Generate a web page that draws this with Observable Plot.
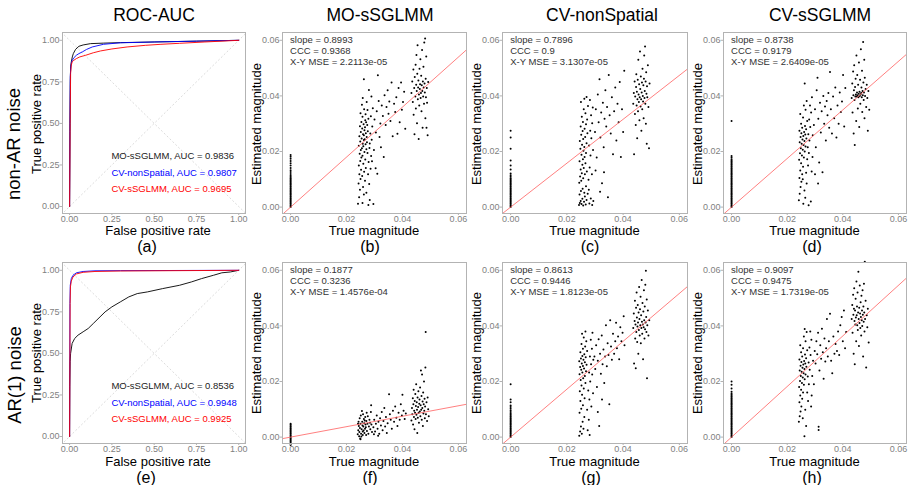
<!DOCTYPE html>
<html><head><meta charset="utf-8">
<script src="https://cdn.jsdelivr.net/npm/d3@7"></script>
<script src="https://cdn.jsdelivr.net/npm/@observablehq/plot@0.6"></script>
<style>
body{margin:0;background:#fff;}
#wrap{position:relative;width:908px;height:485px;font-family:"Liberation Sans",Arial,sans-serif;background:#fff;overflow:hidden}
.t{position:absolute;transform:translate(-50%,-50%);white-space:nowrap;line-height:0.85;color:#000}
.r{position:absolute;transform:translate(-50%,-50%) rotate(-90deg);white-space:nowrap;line-height:0.85;color:#000}
.l{position:absolute;transform:translate(0,-50%);white-space:nowrap;line-height:0.85;color:#000}
#wrap svg text{font-family:"Liberation Sans",Arial,sans-serif}
</style></head><body><div id="wrap"></div>
<script>
// ---------- text ----------
const colTitles = ["ROC-AUC","MO-sSGLMM","CV-nonSpatial","CV-sSGLMM"];
const rowLabels = ["non-AR noise","AR(1) noise"];
const panelLetters = [["(a)","(b)","(c)","(d)"],["(e)","(f)","(g)","(h)"]];
const rocTicks = [0,0.25,0.5,0.75,1];
const magTicks = [0,0.02,0.04,0.06];
const methods = ["MO-sSGLMM","CV-nonSpatial","CV-sSGLMM"];
const methodColors = ["#000000","#0000ff","#ff0000"];
const aucNonAR = ["0.9836","0.9807","0.9695"];
const aucAR1 = ["0.8536","0.9948","0.9925"];

// ---------- ROC curves [FPR, TPR] ----------
const rocNonAR_MO = [[0,0],[0.002,0.45],[0.004,0.75],[0.006,0.84],[0.01,0.87],[0.016,0.9],[0.022,0.92],[0.035,0.945],[0.055,0.964],[0.08,0.972],[0.124,0.98],[0.2,0.983],[0.3,0.986],[0.5,0.99],[0.75,0.995],[1,1]];
const rocNonAR_CVns = [[0,0],[0.002,0.5],[0.004,0.78],[0.007,0.84],[0.012,0.87],[0.016,0.88],[0.025,0.895],[0.04,0.91],[0.055,0.92],[0.075,0.93],[0.1,0.945],[0.134,0.96],[0.2,0.976],[0.3,0.985],[0.5,0.99],[0.75,0.995],[1,1]];
const rocNonAR_CVs = [[0,0],[0.003,0.5],[0.006,0.8],[0.01,0.85],[0.015,0.87],[0.025,0.88],[0.04,0.89],[0.06,0.9],[0.095,0.91],[0.14,0.925],[0.183,0.936],[0.25,0.948],[0.34,0.96],[0.45,0.97],[0.54,0.976],[0.65,0.982],[0.8,0.99],[1,1]];
const rocAR1_MO = [[0,0],[0.001,0.3],[0.003,0.45],[0.006,0.5],[0.015,0.56],[0.03,0.59],[0.05,0.61],[0.08,0.63],[0.11,0.65],[0.14,0.68],[0.18,0.72],[0.21,0.75],[0.25,0.78],[0.3,0.81],[0.35,0.84],[0.4,0.86],[0.46,0.87],[0.55,0.89],[0.65,0.91],[0.72,0.93],[0.78,0.95],[0.85,0.97],[0.9,0.985],[0.95,0.99],[1,1]];
const rocAR1_CVns = [[0,0],[0.002,0.8],[0.004,0.91],[0.01,0.95],[0.02,0.97],[0.04,0.985],[0.08,0.993],[0.15,0.997],[0.3,0.998],[1,1]];
const rocAR1_CVs = [[0,0],[0.003,0.8],[0.005,0.9],[0.01,0.935],[0.02,0.96],[0.04,0.978],[0.08,0.988],[0.15,0.993],[0.3,0.996],[1,1]];

// ---------- scatter: estimates at true magnitude 0 ----------
const zeroB = [0,.0004,.0008,.0012,.0016,.002,.0024,.0028,.0032,.0036,.004,.0044,.0048,.0052,.0056,.006,.0064,.0068,.0072,.0076,.008,.0084,.0088,.0092,.0096,.0100,.0104,.0108,.0113,.0119,.0126,.0133,.0141,.0150,.0158,.0166,.0174,.0181,.0187];
const zeroC = [0,.0004,.0008,.0012,.0016,.002,.0024,.0028,.0032,.0036,.004,.0044,.0048,.0052,.0056,.006,.0064,.0068,.0072,.0076,.008,.0084,.0088,.0092,.0096,.0100,.0104,.0109,.0115,.0121,.0135,.0150,.0168,.0210,.0250,.0275];
const zeroD = [0,.0004,.0008,.0012,.0016,.002,.0024,.0028,.0032,.0036,.004,.0044,.0048,.0052,.0056,.006,.0064,.0068,.0072,.0076,.008,.0084,.0088,.0092,.0096,.0100,.0104,.0108,.0112,.0116,.0120,.0124,.0128,.0132,.0136,.0140,.0144,.0148,.0152,.0156,.0160,.0164,.0168,.0172,.0178,.0184,.0310];
const zeroF = [-.0028,-.0024,-.002,-.0016,-.0012,-.0008,-.0004,0,.0004,.0008,.0012,.0016,.002,.0024,.0028,.0032,.0036,.004,.0044,.0048];
const zeroG = [0,.0004,.0008,.0012,.0016,.002,.0024,.0028,.0032,.0036,.004,.0044,.0048,.0052,.0056,.006,.0064,.0068,.0072,.0076,.008,.0085,.0090,.0096,.0102,.0108,.0114,.0125,.0135,.0190];
const zeroH = [0,.0004,.0008,.0012,.0016,.002,.0024,.0028,.0032,.0036,.004,.0044,.0048,.0052,.0056,.006,.0064,.0068,.0072,.0076,.008,.0084,.0088,.0092,.0096,.0100,.0104,.0108,.0112,.0116,.0120,.0124,.0128,.0132,.0136,.0140,.0144,.0148,.0152,.0157,.0163,.0175,.0188,.0200];

// ---------- scatter: [true magnitude, estimated magnitude] ----------
const ptsB = [[.0241,.0012],[.0245,.0035],[.0248,.0062],[.0243,.0085],[.0250,.0101],[.0246,.0118],[.0252,.0134],[.0244,.0150],[.0249,.0166],[.0253,.0178],[.0247,.0192],[.0251,.0205],[.0255,.0212],[.0244,.0221],[.0258,.0228],[.0249,.0236],[.0262,.0241],[.0254,.0247],[.0246,.0255],[.0259,.0262],[.0251,.0270],[.0264,.0276],[.0256,.0283],[.0248,.0291],[.0261,.0298],[.0253,.0306],[.0267,.0312],[.0257,.0325],[.0250,.0338],[.0263,.0352],[.0255,.0368],[.0258,.0392],[.0262,.0460],
[.0257,.0015],[.0262,.0045],[.0259,.0072],[.0266,.0095],[.0256,.0112],[.0263,.0127],[.0269,.0141],[.0260,.0156],[.0267,.0171],[.0257,.0185],[.0264,.0198],[.0271,.0208],[.0260,.0219],[.0268,.0226],[.0273,.0233],[.0265,.0244],[.0272,.0252],[.0262,.0258],[.0269,.0266],[.0276,.0273],[.0266,.0287],[.0274,.0295],[.0270,.0305],[.0278,.0318],[.0268,.0334],[.0275,.0349],[.0272,.0378],[.0280,.0421],
[.0278,.0008],[.0283,.0026],[.0271,.0052],[.0281,.0083],[.0277,.0118],[.0286,.0138],[.0279,.0162],[.0288,.0184],[.0282,.0213],[.0290,.0242],[.0285,.0265],[.0292,.0290],[.0287,.0327],[.0294,.0356],[.0289,.0398],[.0296,.0011],[.0275,.0195],[.0283,.0229],[.0291,.0165],
[.0300,.0315],[.0305,.0268],[.0308,.0345],[.0312,.0474],[.0315,.0382],[.0318,.0252],[.0321,.0301],[.0326,.0365],[.0330,.0328],[.0333,.0180],[.0336,.0402],[.0340,.0295],[.0343,.0360],[.0347,.0420],[.0350,.0336],[.0353,.0380],[.0357,.0310],[.0361,.0448],[.0365,.0255],[.0370,.0372],[.0374,.0342],[.0378,.0395],[.0382,.0264],[.0386,.0428],[.0390,.0305],[.0395,.0448],[.0398,.0350],[.0402,.0378],[.0406,.0415],[.0410,.0282],[.0298,.0205],[.0310,.0120],[.0304,.0140],[.0323,.0215],
[.0432,.0410],[.0435,.0452],[.0437,.0378],[.0439,.0495],[.0440,.0332],[.0442,.0428],[.0443,.0262],[.0444,.0468],[.0446,.0398],[.0447,.0512],[.0448,.0355],[.0449,.0440],[.0450,.0547],[.0451,.0418],[.0452,.0302],[.0453,.0480],[.0454,.0582],[.0455,.0388],[.0456,.0430],[.0457,.0455],[.0458,.0245],[.0459,.0405],[.0460,.0365],[.0461,.0498],[.0462,.0425],[.0463,.0442],[.0464,.0532],[.0465,.0392],[.0466,.0410],[.0467,.0472],[.0468,.0345],[.0469,.0438],[.0470,.0565],[.0471,.0418],[.0472,.0285],[.0473,.0452],[.0474,.0398],[.0475,.0505],[.0476,.0430],[.0477,.0372],[.0478,.0592],[.0479,.0445],[.0480,.0412],[.0481,.0606],[.0482,.0320],[.0483,.0462],[.0484,.0395],[.0485,.0542],[.0486,.0285],[.0487,.0428],[.0488,.0375],[.0490,.0258],[.0492,.0450]];

const ptsC = [[.0243,.0008],[.0246,.0015],[.0249,.0022],[.0252,.0011],[.0255,.0030],[.0258,.0006],[.0261,.0019],[.0264,.0038],[.0267,.0009],[.0270,.0026],[.0245,.0045],[.0250,.0058],[.0256,.0066],[.0262,.0052],[.0268,.0075],[.0274,.0048],[.0280,.0013],[.0285,.0031],[.0290,.0008],[.0294,.0022],
[.0244,.0088],[.0251,.0095],[.0247,.0110],[.0258,.0104],[.0253,.0122],[.0264,.0118],[.0249,.0135],[.0260,.0141],[.0271,.0128],[.0255,.0152],[.0266,.0158],[.0245,.0165],[.0257,.0172],[.0263,.0180],[.0252,.0188],[.0268,.0195],[.0259,.0203],[.0248,.0210],[.0262,.0216],[.0254,.0224],[.0270,.0230],[.0246,.0238],[.0258,.0245],[.0265,.0252],[.0251,.0260],[.0273,.0266],[.0256,.0274],[.0263,.0282],[.0249,.0290],[.0268,.0298],[.0257,.0306],[.0272,.0315],[.0253,.0325],[.0266,.0338],[.0260,.0352],[.0275,.0364],[.0250,.0378],[.0262,.0390],[.0270,.0396],
[.0277,.0098],[.0281,.0142],[.0284,.0186],[.0279,.0222],[.0287,.0248],[.0283,.0275],[.0290,.0302],[.0286,.0330],[.0292,.0358],[.0278,.0062],[.0289,.0118],[.0293,.0205],[.0282,.0385],
[.0300,.0270],[.0303,.0352],[.0306,.0178],[.0310,.0405],[.0313,.0305],[.0316,.0460],[.0319,.0250],[.0322,.0340],[.0325,.0086],[.0328,.0375],[.0331,.0215],[.0334,.0318],[.0337,.0420],[.0340,.0290],[.0343,.0360],[.0346,.0035],[.0349,.0475],[.0352,.0330],[.0356,.0265],[.0360,.0395],[.0364,.0190],[.0368,.0345],[.0372,.0430],[.0376,.0240],[.0380,.0372],[.0384,.0305],[.0388,.0450],[.0392,.0180],[.0396,.0352],[.0400,.0270],[.0404,.0490],[.0302,.0132],[.0318,.0055],[.0332,.0125],
[.0436,.0372],[.0438,.0410],[.0439,.0190],[.0441,.0452],[.0442,.0335],[.0443,.0398],[.0445,.0295],[.0446,.0432],[.0447,.0478],[.0448,.0365],[.0449,.0415],[.0450,.0248],[.0451,.0388],[.0452,.0458],[.0453,.0345],[.0454,.0530],[.0455,.0405],[.0456,.0378],[.0457,.0442],[.0458,.0312],[.0459,.0395],[.0460,.0560],[.0461,.0425],[.0462,.0362],[.0463,.0470],[.0464,.0388],[.0465,.0275],[.0466,.0412],[.0467,.0448],[.0468,.0352],[.0469,.0498],[.0470,.0400],[.0471,.0380],[.0472,.0438],[.0473,.0320],[.0474,.0462],[.0475,.0545],[.0476,.0392],[.0477,.0418],[.0478,.0578],[.0479,.0372],[.0480,.0452],[.0481,.0300],[.0482,.0485],[.0483,.0408],[.0484,.0228],[.0485,.0435],[.0486,.0395],[.0488,.0510],[.0490,.0360],[.0492,.0212],[.0494,.0445]];

const ptsD = [[.0242,.0025],[.0245,.0048],[.0248,.0072],[.0251,.0091],[.0244,.0105],[.0254,.0118],[.0247,.0132],[.0257,.0145],[.0250,.0158],[.0243,.0170],[.0260,.0178],[.0253,.0186],[.0246,.0194],[.0263,.0200],[.0256,.0206],[.0249,.0212],[.0266,.0218],[.0259,.0223],[.0252,.0228],[.0245,.0233],[.0262,.0238],[.0255,.0243],[.0269,.0247],[.0248,.0252],[.0258,.0256],[.0265,.0261],[.0251,.0266],[.0261,.0270],[.0244,.0275],[.0268,.0280],[.0254,.0285],[.0264,.0292],[.0250,.0300],[.0272,.0310],[.0257,.0322],[.0247,.0335],[.0266,.0350],[.0260,.0365],[.0270,.0382],[.0263,.0445],[.0258,.0012],[.0265,.0034],[.0262,.0060],[.0270,.0085],[.0256,.0100],[.0268,.0124],[.0275,.0150],[.0272,.0172],[.0278,.0195],[.0274,.0215],[.0280,.0240],[.0276,.0262],[.0283,.0288],[.0279,.0315],[.0286,.0340],[.0282,.0365],[.0289,.0395],[.0277,.0007],[.0285,.0020],[.0291,.0180],[.0288,.0128],[.0292,.0258],
[.0296,.0295],[.0300,.0352],[.0303,.0215],[.0306,.0420],[.0309,.0465],[.0312,.0318],[.0315,.0160],[.0318,.0375],[.0321,.0268],[.0324,.0345],[.0327,.0125],[.0330,.0400],[.0333,.0300],[.0336,.0362],[.0339,.0240],[.0342,.0382],[.0345,.0330],[.0348,.0410],[.0351,.0285],[.0354,.0486],[.0357,.0352],[.0361,.0265],[.0365,.0398],[.0369,.0320],[.0373,.0430],[.0377,.0250],[.0381,.0365],[.0385,.0300],[.0389,.0412],[.0393,.0342],[.0397,.0380],[.0401,.0475],[.0405,.0290],[.0409,.0428],[.0300,.0118],[.0311,.0085],
[.0432,.0392],[.0434,.0445],[.0435,.0340],[.0437,.0488],[.0438,.0402],[.0439,.0265],[.0440,.0420],[.0441,.0510],[.0442,.0385],[.0443,.0223],[.0444,.0432],[.0445,.0398],[.0446,.0462],[.0447,.0405],[.0448,.0310],[.0449,.0545],[.0450,.0398],[.0451,.0412],[.0452,.0475],[.0453,.0402],[.0454,.0355],[.0455,.0440],[.0456,.0395],[.0457,.0408],[.0458,.0520],[.0459,.0288],[.0460,.0415],[.0461,.0400],[.0462,.0458],[.0463,.0372],[.0464,.0405],[.0465,.0568],[.0466,.0410],[.0467,.0430],[.0468,.0395],[.0469,.0490],[.0470,.0342],[.0471,.0418],[.0472,.0402],[.0473,.0594],[.0474,.0448],[.0475,.0385],[.0476,.0412],[.0477,.0530],[.0478,.0320],[.0479,.0465],[.0480,.0400],[.0482,.0425],[.0484,.0360],[.0486,.0440],[.0488,.0392],[.0490,.0275],[.0492,.0418],[.0495,.0350]];

const ptsF = [[.0240,.0010],[.0242,.0025],[.0244,.0040],[.0246,.0018],[.0248,.0033],[.0250,.0048],[.0252,.0012],[.0254,.0028],[.0256,.0055],[.0258,.0020],[.0260,.0038],[.0262,.0065],[.0264,.0015],[.0266,.0030],[.0268,.0045],[.0270,.0008],[.0243,.0055],[.0247,.0068],[.0251,.0078],[.0255,.0094],[.0259,.0082],[.0263,.0050],[.0267,.0072],[.0271,.0058],[.0245,.0003],[.0249,-.0005],[.0253,.0002],[.0257,.0042],[.0261,.0024],[.0265,.0060],[.0269,.0035],[.0273,.0022],[.0275,.0048],[.0278,.0012],[.0280,.0038],[.0282,.0062],[.0285,.0028],[.0287,.0090],[.0289,.0045],[.0291,.0018],[.0276,.0075],[.0284,.0052],[.0241,.0048],[.0258,.0008],[.0272,.0088],[.0250,-.0008],[.0288,.0115],
[.0296,.0035],[.0299,.0062],[.0302,.0020],[.0305,.0048],[.0308,.0078],[.0311,.0030],[.0314,.0055],[.0317,.0012],[.0320,.0068],[.0323,.0042],[.0326,.0090],[.0329,.0025],[.0332,.0058],[.0335,.0105],[.0338,.0038],[.0341,.0072],[.0344,.0015],[.0347,.0050],[.0352,.0154],[.0355,.0082],[.0358,.0062],[.0362,.0030],[.0366,.0095],[.0370,.0055],[.0374,.0110],[.0378,.0070],[.0382,.0040],[.0386,.0088],[.0390,.0062],[.0394,.0118],[.0398,.0078],[.0400,.0152],[.0404,.0095],[.0408,.0065],[.0412,.0085],[.0298,.0010],[.0313,.0005],
[.0432,.0060],[.0434,.0105],[.0435,.0082],[.0437,.0140],[.0438,.0045],[.0439,.0118],[.0440,.0170],[.0441,.0072],[.0442,.0095],[.0443,.0028],[.0444,.0130],[.0445,.0088],[.0446,.0155],[.0447,.0065],[.0448,.0112],[.0449,.0190],[.0450,.0080],[.0451,.0125],[.0452,.0098],[.0453,.0015],[.0454,.0142],[.0455,.0070],[.0456,.0108],[.0457,.0165],[.0458,.0088],[.0459,.0052],[.0460,.0120],[.0461,.0135],[.0462,.0092],[.0463,.0178],[.0464,.0075],[.0465,.0115],[.0466,.0240],[.0467,.0098],[.0468,.0148],[.0469,.0062],[.0470,.0225],[.0471,.0105],[.0472,.0128],[.0473,.0040],[.0474,.0160],[.0475,.0085],[.0476,.0118],[.0477,.0200],[.0478,.0095],[.0479,.0138],[.0480,.0068],[.0481,.0110],[.0482,.0250],[.0483,.0378],[.0484,.0082],[.0486,.0125],[.0488,.0058],[.0490,.0142],[.0492,.0100],[.0494,.0075]];

const ptsG = [[.0244,.0005],[.0247,.0020],[.0250,.0038],[.0253,.0012],[.0256,.0055],[.0259,.0030],[.0262,.0072],[.0245,.0088],[.0251,.0102],[.0257,.0115],[.0248,.0130],[.0263,.0140],[.0254,.0152],[.0246,.0165],[.0260,.0175],[.0252,.0186],[.0266,.0195],[.0249,.0205],[.0258,.0212],[.0264,.0220],[.0245,.0226],[.0255,.0232],[.0268,.0237],[.0251,.0242],[.0261,.0247],[.0247,.0252],[.0257,.0256],[.0270,.0260],[.0253,.0265],[.0264,.0269],[.0244,.0273],[.0259,.0278],[.0250,.0283],[.0267,.0287],[.0255,.0292],[.0262,.0298],[.0248,.0305],[.0272,.0310],[.0257,.0318],[.0265,.0326],[.0252,.0335],[.0269,.0345],[.0260,.0358],[.0254,.0372],[.0266,.0380],
[.0274,.0025],[.0278,.0062],[.0272,.0098],[.0280,.0135],[.0276,.0168],[.0283,.0200],[.0279,.0232],[.0286,.0262],[.0282,.0290],[.0289,.0318],[.0285,.0350],[.0291,.0375],[.0287,.0110],[.0293,.0158],[.0290,.0225],[.0281,.0008],[.0294,.0278],
[.0298,.0290],[.0301,.0245],[.0304,.0330],[.0307,.0180],[.0310,.0275],[.0313,.0352],[.0315,.0040],[.0318,.0300],[.0321,.0228],[.0324,.0365],[.0327,.0262],[.0330,.0315],[.0333,.0195],[.0336,.0290],[.0339,.0402],[.0342,.0255],[.0345,.0338],[.0348,.0295],[.0351,.0118],[.0354,.0420],[.0357,.0326],[.0360,.0278],[.0364,.0372],[.0368,.0300],[.0372,.0345],[.0375,.0411],[.0378,.0320],[.0382,.0362],[.0386,.0280],[.0390,.0395],[.0394,.0345],[.0398,.0375],[.0402,.0435],[.0405,.0330],[.0310,.0090],[.0325,.0135],
[.0436,.0392],[.0438,.0445],[.0439,.0265],[.0441,.0418],[.0442,.0490],[.0443,.0355],[.0444,.0405],[.0445,.0248],[.0446,.0465],[.0447,.0378],[.0448,.0520],[.0449,.0430],[.0450,.0342],[.0451,.0398],[.0452,.0475],[.0453,.0412],[.0454,.0300],[.0455,.0448],[.0456,.0385],[.0457,.0540],[.0458,.0425],[.0459,.0365],[.0460,.0460],[.0461,.0402],[.0462,.0505],[.0463,.0338],[.0464,.0438],[.0465,.0392],[.0466,.0565],[.0467,.0415],[.0468,.0372],[.0469,.0482],[.0470,.0405],[.0471,.0280],[.0472,.0452],[.0473,.0395],[.0474,.0528],[.0475,.0420],[.0476,.0355],[.0477,.0470],[.0478,.0388],[.0479,.0548],[.0480,.0412],[.0481,.0598],[.0482,.0432],[.0483,.0378],[.0484,.0495],[.0485,.0212],[.0486,.0402],[.0488,.0455],[.0490,.0365],[.0493,.0420]];

const ptsH = [[.0242,.0055],[.0245,.0075],[.0248,.0092],[.0251,.0110],[.0244,.0125],[.0254,.0138],[.0247,.0150],[.0257,.0160],[.0250,.0170],[.0243,.0180],[.0260,.0188],[.0253,.0195],[.0246,.0202],[.0263,.0208],[.0256,.0214],[.0249,.0220],[.0266,.0225],[.0259,.0230],[.0252,.0235],[.0245,.0240],[.0262,.0245],[.0255,.0249],[.0269,.0253],[.0248,.0257],[.0258,.0261],[.0265,.0265],[.0251,.0270],[.0261,.0274],[.0244,.0279],[.0268,.0284],[.0254,.0290],[.0264,.0297],[.0250,.0305],[.0272,.0312],[.0257,.0320],[.0247,.0330],[.0266,.0345],[.0260,.0362],[.0270,.0378],[.0263,.0389],[.0262,.0003],[.0256,.0068],[.0268,.0040],[.0265,.0098],[.0275,.0130],[.0272,.0160],[.0278,.0190],[.0274,.0218],[.0281,.0242],[.0277,.0268],[.0284,.0295],[.0280,.0322],[.0287,.0350],[.0283,.0380],[.0290,.0220],[.0288,.0150],[.0293,.0275],[.0296,.0190],[.0299,.0310],[.0286,.0110],
[.0302,.0265],[.0305,.0345],[.0308,.0298],[.0311,.0375],[.0313,.0026],[.0313,.0037],[.0316,.0240],[.0319,.0330],[.0322,.0282],[.0325,.0390],[.0328,.0305],[.0331,.0210],[.0334,.0355],[.0337,.0272],[.0340,.0320],[.0343,.0425],[.0346,.0290],[.0350,.0345],[.0354,.0444],[.0358,.0275],[.0362,.0230],[.0366,.0362],[.0370,.0300],[.0374,.0335],[.0379,.0310],[.0383,.0380],[.0387,.0295],[.0391,.0402],[.0396,.0432],[.0400,.0345],[.0404,.0455],[.0408,.0320],[.0412,.0378],
[.0432,.0425],[.0434,.0475],[.0435,.0375],[.0437,.0512],[.0438,.0440],[.0439,.0300],[.0440,.0462],[.0441,.0535],[.0442,.0418],[.0443,.0262],[.0444,.0455],[.0445,.0405],[.0446,.0498],[.0447,.0430],[.0448,.0345],[.0449,.0560],[.0450,.0438],[.0451,.0470],[.0452,.0402],[.0453,.0520],[.0454,.0385],[.0455,.0448],[.0456,.0595],[.0457,.0425],[.0458,.0328],[.0459,.0465],[.0460,.0410],[.0461,.0545],[.0462,.0445],[.0463,.0392],[.0464,.0485],[.0465,.0432],[.0466,.0365],[.0467,.0508],[.0468,.0420],[.0469,.0455],[.0470,.0400],[.0471,.0528],[.0472,.0440],[.0473,.0290],[.0474,.0470],[.0475,.0415],[.0476,.0552],[.0477,.0448],[.0478,.0380],[.0479,.0631],[.0480,.0425],[.0482,.0490],[.0484,.0250],[.0486,.0438],[.0488,.0395],[.0490,.0462],[.0493,.0340]];

// ---------- fit statistics ----------
const slopes = [[0.8993,0.7896,0.8738],[0.1877,0.8613,0.9097]];
const cccs = [["0.9368","0.9","0.9179"],["0.3236","0.9446","0.9475"]];
const mses = [["2.2113e-05","3.1307e-05","2.6409e-05"],["1.4576e-04","1.8123e-05","1.7319e-05"]];

// ---------- layout ----------
const FONT = "Liberation Sans, Arial, sans-serif";
const wrap = document.getElementById("wrap");
const colL = [62,282,502,723], colR = [245,466,687,906];
const rowT = [32,262], rowB = [213,443];
const ML = 44, MR = 2, MT = 6, MB = 18;
const GRAY_FRAME = "#b3b3b3", GRAY_TEXT = "#7f7f7f";
const TICK_FS = 9, NOTE_FS = 9.5;

function addText(txt, x, y, size, cls, color) {
  const d = document.createElement("div");
  d.className = cls || "t";
  d.textContent = txt;
  d.style.left = x + "px"; d.style.top = y + "px";
  d.style.fontSize = size + "px";
  if (color) d.style.color = color;
  wrap.appendChild(d);
}
function place(svg, L, T) {
  svg.style.position = "absolute";
  svg.style.left = (L - ML) + "px";
  svg.style.top = (T - MT) + "px";
  wrap.appendChild(svg);
}
function frameAxes(ticks) {
  const fmt = d3.format(".2f");
  return [
    Plot.axisX({ticks, tickFormat: fmt, tickSize: 2, tickPadding: 0, fontSize: TICK_FS, fontFamily: FONT, stroke: GRAY_FRAME, fill: GRAY_TEXT, label: null}),
    Plot.axisY({ticks, tickFormat: fmt, tickSize: 2.5, tickPadding: 0.5, fontSize: TICK_FS, fontFamily: FONT, stroke: GRAY_FRAME, fill: GRAY_TEXT, label: null}),
    Plot.frame({stroke: GRAY_FRAME, strokeWidth: 1})
  ];
}
function dims(c, r) {
  const L = colL[c], R = colR[c], T = rowT[r], B = rowB[r];
  return {L, T, opts: {width: R - L + ML + MR, height: B - T + MT + MB, marginLeft: ML, marginRight: MR, marginTop: MT, marginBottom: MB,
    style: "background: transparent; overflow: visible; font-family: 'Liberation Sans', Arial, sans-serif;"}};
}
// annotation text placed through the plot's own scales
function annotate(svg, L, T, xv, yv, dyPx, txt, color) {
  const px = (L - ML) + svg.scale("x").apply(xv);
  const py = (T - MT) + svg.scale("y").apply(yv) + dyPx;
  addText(txt, px, py, NOTE_FS, "l", color);
}

// ROC panels
const rocSets = [[rocNonAR_MO, rocNonAR_CVns, rocNonAR_CVs], [rocAR1_MO, rocAR1_CVns, rocAR1_CVs]];
const aucSets = [aucNonAR, aucAR1];
const legendY = [0.3, 0.2, 0.1];
for (let r = 0; r < 2; r++) {
  const {L, T, opts} = dims(0, r);
  const svg = Plot.plot({
    ...opts,
    x: {domain: [-0.042, 1.04]},
    y: {domain: [-0.042, 1.047]},
    marks: [
      Plot.link([[-0.1, -0.1, 1.1, 1.1], [-0.1, 1.1, 1.1, -0.1]], {x1: d => d[0], y1: d => d[1], x2: d => d[2], y2: d => d[3], stroke: "#cccccc", strokeWidth: 0.7, strokeDasharray: "2,2", clip: true}),
      ...rocSets[r].map((curve, i) => Plot.line(curve, {x: d => d[0], y: d => d[1], stroke: methodColors[i], strokeWidth: 0.9, clip: true})),
      ...frameAxes(rocTicks)
    ]
  });
  place(svg, L, T);
  methods.forEach((m, i) => annotate(svg, L, T, 0.25, legendY[i], 0, `${m}, AUC = ${aucSets[r][i]}`, i === 0 ? "#222" : methodColors[i]));
}

// scatter panels
const ptSets = [[ptsB, ptsC, ptsD], [ptsF, ptsG, ptsH]];
const zeroSets = [[zeroB, zeroC, zeroD], [zeroF, zeroG, zeroH]];
for (let r = 0; r < 2; r++) {
  for (let c = 0; c < 3; c++) {
    const {L, T, opts} = dims(c + 1, r);
    const s = slopes[r][c];
    const stats = [`slope = ${s.toFixed(4)}`, `CCC = ${cccs[r][c]}`, `X-Y MSE = ${mses[r][c]}`];
    const svg = Plot.plot({
      ...opts,
      x: {domain: [-0.0029, 0.0629]},
      y: {domain: [-0.0023, 0.0628]},
      marks: [
        Plot.dot(zeroSets[r][c], {x: () => 0, y: d => d, r: 1, fill: "#000"}),
        Plot.dot(ptSets[r][c], {x: d => d[0], y: d => d[1], r: 1, fill: "#000"}),
        Plot.link([s], {x1: () => -0.01, y1: d => d * -0.01, x2: () => 0.07, y2: d => d * 0.07, stroke: "#ff6060", strokeWidth: 0.8, clip: true}),
        ...frameAxes(magTicks)
      ]
    });
    place(svg, L, T);
    stats.forEach((t, i) => annotate(svg, L, T, 0, 0.06, i * 10.9, t, "#333"));
  }
}

// titles and labels
const titleX = [154, 380, 602, 820];
colTitles.forEach((t, i) => addText(t, titleX[i], 15, 17.5));
addText(rowLabels[0], 14, 144, 18.5, "r");
addText(rowLabels[1], 15, 375, 18.5, "r");
const letterX = [[147, 370, 590, 812], [146, 370, 591, 812]];
const letterY = [247, 478];
const xTitleY = [231, 461.5];
const yTitleY = [123.5, 353];
for (let r = 0; r < 2; r++) {
  panelLetters[r].forEach((t, i) => addText(t, letterX[r][i], letterY[r], 16));
  addText("False positive rate", 158, xTitleY[r], 13);
  addText("True positive rate", 37, yTitleY[r], 13, "r");
  for (let c = 1; c < 4; c++) {
    addText("True magnitude", (colL[c] + colR[c]) / 2, xTitleY[r], 13);
    addText("Estimated magnitude", colL[c] - 25, yTitleY[r], 13, "r");
  }
}
</script></body></html>
